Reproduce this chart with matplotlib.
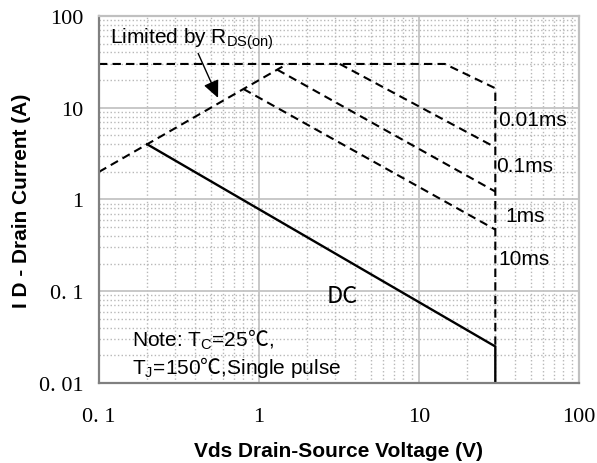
import matplotlib
matplotlib.use('Agg')
import matplotlib.pyplot as plt

# Safe operating area data (Vds in V, Id in A)
rds_v = [0.1, 1.5]
rds_i = [2.0, 30.0]

# 0.01ms: current limit then steps down to the Vds limit, dashed vertical to DC end
p001_v = [0.1, 14.5, 30.0, 30.0]
p001_i = [30.0, 30.0, 16.3, 0.025]

p01_v = [3.2, 30.0]
p01_i = [30.0, 3.7]

p1_v = [1.3, 30.0]
p1_i = [26.0, 1.22]

p10_v = [0.8, 30.0]
p10_i = [16.0, 0.47]

dc_v = [0.2, 30.0, 30.0]
dc_i = [4.0, 0.025, 0.01]

x_ticks = [0.1, 1, 10, 100]
x_labels = ['0. 1', '1', '10', '100']
y_ticks = [0.01, 0.1, 1, 10, 100]
y_labels = ['0. 01', '0. 1', '1', '10', '100']

plt.rcParams['font.family'] = ['Liberation Sans', 'Noto Sans CJK SC', 'DejaVu Sans']
plt.rcParams['mathtext.fontset'] = 'custom'
plt.rcParams['mathtext.rm'] = 'Liberation Sans'
plt.rcParams['mathtext.sf'] = 'Noto Sans CJK SC'

fig = plt.figure(figsize=(5.97, 4.64), dpi=100)
ax = fig.add_axes([0.1658, 0.1724, 0.804, 0.7910])
ax.set_xscale('log')
ax.set_yscale('log')
ax.set_xlim(0.1, 100)
ax.set_ylim(0.01, 100)

# grid
ax.grid(which='major', color='#c4c4c4', linestyle='-', linewidth=1.3)
ax.grid(which='minor', color='#b8b8b8', linestyle=':', linewidth=1.0)
ax.set_axisbelow(True)

dash = (0, (4, 2.5))
ax.plot(rds_v, rds_i, color='black', lw=1.5, linestyle=dash)
ax.plot(p001_v, p001_i, color='black', lw=1.5, linestyle=dash)
ax.plot(p01_v, p01_i, color='black', lw=1.5, linestyle=dash)
ax.plot(p1_v, p1_i, color='black', lw=1.5, linestyle=dash)
ax.plot(p10_v, p10_i, color='black', lw=1.5, linestyle=dash)
ax.plot(dc_v, dc_i, color='black', lw=1.7, solid_joinstyle='miter')

# labels on the curves
ax.text(31.2, 7.5, '0.01ms', fontsize=15, va='center', ha='left')
ax.text(30.5, 2.35, '0.1ms', fontsize=15, va='center', ha='left')
ax.text(34.5, 0.668, '1ms', fontsize=15, va='center', ha='left')
ax.text(31.2, 0.226, '10ms', fontsize=15, va='center', ha='left')
ax.text(3.3, 0.089, 'DC', fontsize=17, va='center', ha='center', family='Noto Sans CJK SC')

ax.text(0.161, 0.026, 'Note: T$_\\mathrm{C}$=25$\\mathsf{℃}$,', fontsize=15, va='baseline', ha='left')
ax.text(0.161, 0.0129, 'T$_\\mathrm{J}$=150$\\mathsf{℃}$,Single pulse', fontsize=15, va='baseline', ha='left')

ax.annotate('Limited by R$_\\mathrm{DS(on)}$', xy=(0.555, 12.8), xytext=(0.1175, 52),
            fontsize=15, va='baseline', ha='left',
            arrowprops=dict(arrowstyle='-|>,head_length=0.7,head_width=0.32', color='black', lw=1.0,
                            shrinkA=0, shrinkB=0, relpos=(0.53, 0.0)))

ax.set_xticks(x_ticks)
ax.set_xticklabels(x_labels, family='Liberation Serif', fontsize=16)
ax.set_yticks(y_ticks)
ax.set_yticklabels(y_labels, family='Liberation Serif', fontsize=16)
ax.tick_params(which='both', length=0)
ax.tick_params(axis='x', pad=17)
ax.tick_params(axis='y', pad=11)

ax.set_xlabel('Vds Drain-Source Voltage (V)', fontsize=15, fontweight='bold', labelpad=11)
ax.set_ylabel('I D - Drain Current (A)', fontsize=15, fontweight='bold', labelpad=6)

for side in ['left', 'bottom']:
    ax.spines[side].set_color('#808080')
    ax.spines[side].set_linewidth(1.6)
for side in ['top', 'right']:
    ax.spines[side].set_color('#c0c0c0')
    ax.spines[side].set_linewidth(1.6)

fig.savefig('out.png', dpi=100)
